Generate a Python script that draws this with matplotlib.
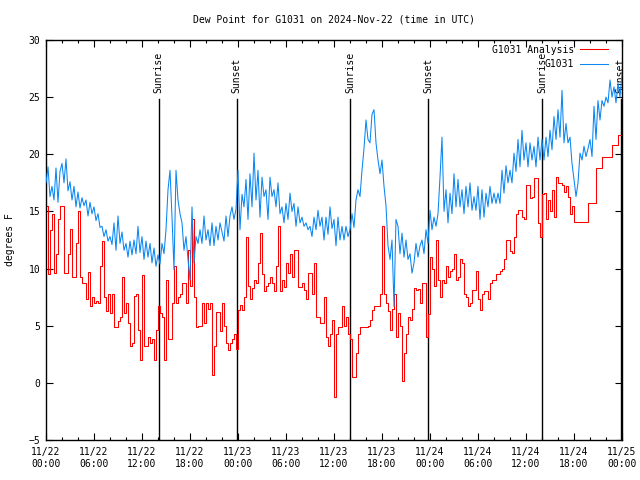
import matplotlib
matplotlib.use("Agg")
import matplotlib.pyplot as plt
import matplotlib.dates as mdates
import pandas as pd

# dew point, deg F, every 15 minutes from 2024-11-22 00:00 UTC
start = "2024-11-22 00:00"
step = "15min"

analysis = [
    15.5, 9.5, 13.4, 14.8,   9.6, 11.3, 14.3, 15.5,   15.5, 9.6, 9.6, 11.3,   13.5, 9.3, 9.3, 12.2,
    15.0, 9.3, 8.7, 8.7,     7.3, 9.7, 6.7, 7.5,      7.0, 7.2, 7.0, 10.2,    12.4, 7.5, 6.3, 7.8,
    6.1, 7.8, 4.9, 4.9,      5.4, 5.8, 9.3, 6.1,      7.0, 5.2, 3.2, 3.5,     7.6, 7.8, 4.6, 2.0,
    9.4, 3.2, 3.2, 4.0,      3.5, 3.8, 2.0, 4.6,      6.7, 6.1, 5.8, 2.0,     9.0, 3.8, 3.8, 7.0,
    10.2, 7.0, 7.5, 7.8,     8.7, 8.7, 7.0, 11.6,     8.5, 14.3, 7.5, 4.9,    5.0, 5.0, 7.0, 5.2,
    7.0, 6.5, 7.0, 0.7,      3.2, 6.2, 6.2, 4.5,      7.0, 5.0, 3.5, 2.9,     3.5, 3.8, 4.3, 3.0,
    6.4, 6.8, 6.4, 7.5,      12.8, 8.5, 7.3, 8.3,     9.0, 8.7, 10.5, 13.1,   9.5, 8.0, 8.5, 8.7,
    9.3, 8.7, 8.0, 10.2,     13.7, 8.0, 9.0, 8.4,     10.5, 9.6, 11.3, 9.3,   11.6, 11.6, 8.4, 8.4,
    8.7, 8.1, 7.3, 9.6,      9.6, 7.8, 10.5, 5.8,     5.8, 5.2, 5.2, 7.5,     4.0, 3.2, 4.3, 5.5,
    -1.2, 4.3, 4.9, 4.9,     6.7, 5.0, 5.8, 4.3,      3.8, 0.55, 0.55, 2.6,   4.3, 4.9, 4.9, 4.9,
    4.9, 5.0, 5.5, 6.4,      6.7, 6.7, 6.7, 7.8,      13.7, 7.8, 7.0, 6.3,    4.6, 6.5, 7.8, 4.0,
    6.1, 5.0, 0.2, 2.6,      4.3, 5.8, 5.5, 6.5,      8.3, 8.1, 8.2, 7.0,     8.7, 8.7, 4.0, 6.0,
    11.0, 10.0, 8.5, 12.5,   9.0, 7.5, 9.0, 8.7,      10.2, 9.3, 9.8, 10.0,   11.3, 9.0, 9.3, 10.8,
    10.5, 7.8, 7.5, 6.7,     7.0, 8.1, 8.1, 9.8,      7.3, 6.4, 7.8, 8.0,     8.0, 7.3, 8.7, 9.0,
    9.0, 9.5, 9.5, 9.8,      10.0, 10.8, 12.5, 12.5,  11.5, 11.4, 12.8, 14.8, 15.1, 15.1, 14.5, 14.3,
    17.3, 17.3, 16.2, 16.3,  17.9, 17.9, 14.0, 12.8,  16.5, 16.6, 14.3, 16.0, 15.0, 16.9, 14.5, 18.0,
    17.5, 17.5, 17.3, 16.7,  17.2, 16.3, 14.8, 15.5,  14.1, 14.1, 14.1, 14.1, 14.1, 14.1, 14.1, 15.7,
    15.7, 15.7, 15.7, 18.8,  18.8, 18.8, 19.8, 19.8,  19.8, 19.8, 19.8, 20.8, 20.8, 20.8, 21.7, 21.7,
    21.7,
]

observed = [
    17.5, 18.9, 16.3, 17.2,  16.0, 18.8, 15.8, 18.5,  19.2, 17.5, 19.6, 16.8,  17.6, 16.0, 17.2, 15.4,
    16.7, 15.3, 16.2, 15.5,  16.0, 14.6, 15.8, 14.8,  15.4, 14.2, 14.8, 13.6,  13.7, 12.8, 13.4, 12.4,
    12.8, 12.1, 14.0, 11.6,  14.6, 12.2, 13.2, 11.6,  12.2, 11.0, 12.4, 11.2,  12.5, 11.3, 13.7, 11.4,
    12.8, 10.8, 12.4, 11.0,  12.2, 10.5, 11.8, 10.2,  11.2, 10.4, 12.2, 11.3,  13.4, 16.9, 18.6, 14.5,
    9.9, 18.6, 16.0, 14.8,   14.0, 11.6, 12.8, 10.8,  9.0, 15.4, 10.5, 12.8,   12.2, 13.4, 12.2, 14.6,
    12.5, 13.4, 12.0, 14.0,  12.0, 13.7, 12.5, 14.0,  13.2, 12.4, 14.6, 12.8,  14.6, 15.4, 14.3, 15.2,
    18.6, 13.4, 16.5, 15.4,  17.8, 14.3, 18.3, 15.4,  20.1, 16.0, 18.6, 14.5,  18.0, 16.3, 16.9, 14.3,
    18.0, 16.3, 16.9, 15.4,  17.5, 14.8, 15.4, 14.0,  15.7, 14.3, 16.6, 15.0,  15.7, 13.7, 15.4, 14.0,
    14.5, 13.7, 14.0, 13.4,  13.7, 12.8, 14.5, 13.4,  15.1, 13.7, 14.5, 12.5,  14.5, 13.0, 15.4, 13.5,
    14.3, 12.0, 14.5, 12.5,  13.7, 12.5, 13.7, 12.8,  13.4, 14.8, 13.6, 16.0,  16.9, 16.3, 18.6, 20.5,
    23.0, 21.3, 21.0, 23.5,  23.9, 21.0, 19.5, 18.3,  19.5, 17.2, 15.5, 12.0,  10.8, 12.5, 6.7, 14.3,
    13.7, 11.3, 13.1, 11.0,  12.5, 10.8, 11.3, 9.6,   10.5, 12.2, 11.0, 12.0,  12.5, 11.3, 13.4, 12.2,
    15.1, 13.4, 14.5, 13.7,  14.8, 18.0, 21.5, 15.0,  16.9, 14.0, 16.6, 14.8,  18.3, 15.4, 17.8, 15.4,
    16.9, 14.8, 17.2, 15.4,  17.5, 15.1, 16.3, 15.1,  17.2, 14.3, 16.9, 14.5,  16.6, 15.4, 17.2, 15.7,
    16.6, 15.7, 16.6, 15.7,  18.6, 16.6, 19.0, 17.5,  18.6, 17.5, 20.1, 18.5,  21.3, 18.9, 22.1, 19.5,
    21.0, 18.9, 21.0, 19.5,  20.7, 18.9, 21.5, 19.5,  21.3, 19.5, 21.5, 19.8,  22.1, 20.4, 23.3, 21.3,
    23.9, 21.5, 25.6, 21.0,  22.7, 21.0, 21.5, 19.2,  17.8, 16.3, 17.5, 20.1,  19.5, 20.7, 19.8, 20.5,
    21.3, 19.8, 24.2, 21.3,  24.7, 23.0, 24.7, 24.2,  25.0, 24.5, 26.5, 25.0,  25.9, 24.5, 26.2, 25.0,
    27.0,
]

sunrise = ["2024-11-22 14:04", "2024-11-23 14:02", "2024-11-24 14:01"]
sunset = ["2024-11-22 23:51", "2024-11-23 23:48", "2024-11-24 23:51"]

times = pd.date_range(start, periods=len(observed), freq=step)

plt.rcParams["font.family"] = ["DejaVu Sans Mono"]
plt.rcParams["font.size"] = 7

fig = plt.figure(figsize=(6.4, 4.8), dpi=100)
ax = fig.add_axes([46 / 640, 40 / 480, 576 / 640, 400 / 480])

# sunrise / sunset markers
events = [(t, "Sunrise") for t in sunrise] + [(t, "Sunset") for t in sunset]
for t, name in events:
    x = mdates.date2num(pd.Timestamp(t))
    ax.plot([x, x], [-5, 24.8], color="black", lw=1.0, zorder=1)
    ax.text(x, 25.4, name, rotation=90, ha="center", va="bottom", fontsize=7)

ax.plot(times, analysis, color="#ff0000", lw=0.75, drawstyle="steps-post",
        label="G1031 Analysis", zorder=2)
ax.plot(times, observed, color="#0a86f2", lw=0.75, label="G1031", zorder=3)

ax.set_xlim(times[0], times[-1])
ax.set_ylim(-5, 30)
ax.set_yticks(range(-5, 31, 5))
ax.xaxis.set_major_locator(mdates.HourLocator(byhour=[0, 6, 12, 18]))
ax.xaxis.set_minor_locator(mdates.HourLocator(interval=2))
ax.xaxis.set_major_formatter(mdates.DateFormatter("%m/%d\n%H:%M"))
ax.tick_params(which="both", direction="in", top=True, right=True, width=0.8)
ax.tick_params(which="major", length=5)
ax.tick_params(which="minor", length=2.5)
ax.tick_params(axis="y", pad=4)
ax.tick_params(axis="x", pad=5)
for s in ax.spines.values():
    s.set_linewidth(1.0)

ax.legend(loc="upper right", bbox_to_anchor=(0.976, 0.988), frameon=False,
          markerfirst=False, handlelength=2.9, handletextpad=0.6,
          labelspacing=0.45, borderpad=0, borderaxespad=0, fontsize=7)

fig.text(334 / 640, 1 - 20 / 480, "Dew Point for G1031 on 2024-Nov-22 (time in UTC)",
         ha="center", va="center", fontsize=7)
fig.text(10 / 640, 0.5, "degrees F", rotation=90, ha="center", va="center", fontsize=7)

fig.savefig("out.png", dpi=100)
